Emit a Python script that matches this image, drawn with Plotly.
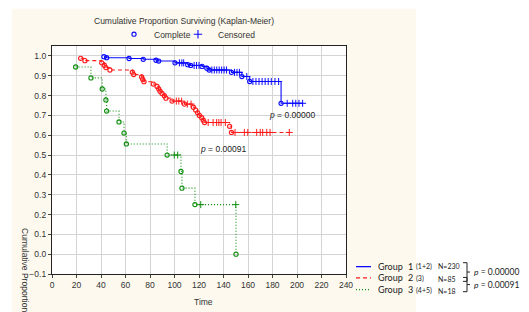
import plotly.graph_objects as go

# ---------------- data ----------------
g1_event_t = [42.4, 44.6, 62.9, 74.5, 84.9, 87.1, 100.4, 110.8, 113.2, 122.5, 126.4, 128.3, 146.5, 155.0, 161.4, 187.0]
g1_event_s = [0.996, 0.991, 0.987, 0.983, 0.978, 0.974, 0.965, 0.956, 0.952, 0.947, 0.938, 0.929, 0.917, 0.896, 0.871, 0.761]
g1_cens_t = [104.0, 106.0, 107.5, 116.0, 118.0, 120.0, 130.5, 132.5, 134.5, 136.5, 138.5, 140.5, 142.5,
             149.0, 151.0, 153.0, 159.0, 164.0, 166.5, 169.0, 171.5, 174.0, 176.5, 179.0, 182.0, 185.0,
             192.0, 196.5, 199.0, 201.6, 204.6]

g2_event_t = [23.4, 26.9, 40.6, 42.7, 44.0, 47.3, 65.6, 66.7, 73.2, 74.0, 75.1, 82.7, 85.8, 87.1, 88.2,
              89.8, 91.7, 93.0, 98.0, 108.2, 115.4, 117.3, 118.9, 120.3, 122.2, 123.5, 124.5, 145.0, 146.5]
g2_event_s = [0.988, 0.976, 0.965, 0.953, 0.941, 0.929, 0.918, 0.906, 0.894, 0.882, 0.870, 0.858, 0.846, 0.834, 0.822,
              0.811, 0.799, 0.787, 0.772, 0.757, 0.741, 0.727, 0.713, 0.700, 0.688, 0.676, 0.664, 0.645, 0.614]
g2_cens_t = [101.5, 103.5, 105.8, 110.5, 113.5, 127.5, 131.5, 134.4, 136.2, 138.0, 141.5,
             149.4, 157.0, 159.8, 167.1, 170.0, 172.0, 175.3, 178.0, 193.7]

g3_event_t = [19.3, 31.8, 41.0, 44.0, 44.6, 54.7, 58.8, 60.7, 94.0, 105.3, 106.1, 116.7, 150.2]
g3_event_s = [0.944, 0.889, 0.833, 0.778, 0.722, 0.667, 0.611, 0.556, 0.500, 0.417, 0.333, 0.250, 0.000]
g3_cens_t = [99.8, 102.6, 121.4, 150.0]

group_names = ["Group", "Group", "Group"]
group_nums = ["1", "2", "3"]
group_codes = ["(1+2)", "(3)", "(4+5)"]
group_ns = ["N=230", "N=85", "N=18"]
pair_pvalues = ["0.00000", "0.00091"]
x_ticks = list(range(0, 241, 20))
y_ticks = [round(-0.1 + 0.1 * i, 1) for i in range(12)]

colors = ["#0a0aff", "#ff1a1a", "#0f8f0f"]
dashes = ["solid", "4px,3px", "1px,2px"]

# ---------------- layout geometry (pixels, in reference-image coords) ----------------
OFF = 8                     # page body margin of the html page
W, H = 529 - OFF, 312 - OFF
L, R, T, B = 52, 346, 42, 274


def px(x):
    return (x - L) / (R - L)


def py(y):
    return (B - y) / (B - T)


def surv_at(t, ev_t, ev_s):
    s = 1.0
    for et, es in zip(ev_t, ev_s):
        if et <= t:
            s = es
    return s


fig = go.Figure()

groups = [(g1_event_t, g1_event_s, g1_cens_t),
          (g2_event_t, g2_event_s, g2_cens_t),
          (g3_event_t, g3_event_s, g3_cens_t)]

for i, (et, es, ct) in enumerate(groups):
    cs = [surv_at(t, et, es) for t in ct]
    pts = sorted(list(zip(et, es)) + list(zip(ct, cs)), key=lambda p: p[0])
    fig.add_trace(go.Scatter(
        x=[p[0] for p in pts], y=[p[1] for p in pts], mode="lines",
        line=dict(color=colors[i], width=1.1, dash=dashes[i], shape="hv"),
        showlegend=False, hoverinfo="skip"))
    fig.add_trace(go.Scatter(
        x=et, y=es, mode="markers",
        marker=dict(symbol="circle-open", size=4.2, color=colors[i], line=dict(width=1.1)),
        showlegend=False))
    fig.add_trace(go.Scatter(
        x=ct, y=cs, mode="markers",
        marker=dict(symbol="cross-thin-open", size=5, color=colors[i], line=dict(width=1, color=colors[i])),
        showlegend=False))

# legend-only traces for the top key (two separate legends for exact placement)
fig.add_trace(go.Scatter(x=[None], y=[None], mode="markers", name="Complete", legend="legend",
                         marker=dict(symbol="circle-open", size=4.2, color="#0a0aff", line=dict(width=1.1))))
fig.add_trace(go.Scatter(x=[None], y=[None], mode="markers", name="Censored", legend="legend2",
                         marker=dict(symbol="cross-thin-open", size=6, color="#0a0aff",
                                     line=dict(width=1.1, color="#0a0aff"))))

font_main = "Liberation Sans, Arial, sans-serif"
font_leg = "Lato, Liberation Sans, sans-serif"

shapes = [
    # cream background panel
    dict(type="rect", xref="paper", yref="paper", x0=px(12), x1=px(416), y0=py(320), y1=py(4),
         fillcolor="#fdf9ee", line=dict(width=0), layer="below"),
    # white plot area
    dict(type="rect", xref="paper", yref="paper", x0=0, x1=1, y0=0, y1=1,
         fillcolor="white", line=dict(width=0), layer="below"),
]


def ann(text, x, y, size=8.5, family=font_main, xanchor="center", yanchor="middle", color="#333", **kw):
    return dict(text=text, xref="paper", yref="paper", x=px(x), y=py(y), xanchor=xanchor,
                yanchor=yanchor, showarrow=False, font=dict(family=family, size=size, color=color), **kw)


annotations = [
    ann("Cumulative Proportion Surviving (Kaplan-Meier)", 184, 16.5),
    ann("Time", 203, 302),
    ann("Cumulative Proportion", 25, 270, textangle=90),
    dict(text="<i>p</i> = 0.00000", x=195.7, y=0.703, xanchor="center", yanchor="middle", showarrow=False,
         font=dict(family=font_main, size=8.5, color="#222")),
    dict(text="<i>p</i> = 0.00091", x=139.6, y=0.531, xanchor="center", yanchor="middle", showarrow=False,
         font=dict(family=font_main, size=8.5, color="#222")),
]

# bottom-right group key
row_y = [266.5, 278.0, 290.0]
small_dy = [0.5, 2.0, 2.0]
for i in range(3):
    shapes.append(dict(type="line", xref="paper", yref="paper", x0=px(356), x1=px(371),
                       y0=py(row_y[i]), y1=py(row_y[i]),
                       line=dict(color=colors[i], width=1.3, dash=dashes[i])))
    annotations.append(ann(group_names[i], 376, row_y[i], size=9, family=font_leg, xanchor="left", color="#222"))
    annotations.append(ann(group_nums[i], 406, row_y[i], size=9, family=font_leg, xanchor="left", color="#222"))
    annotations.append(ann(group_codes[i], 414, row_y[i] - 1 + small_dy[i], size=7, family=font_leg,
                           xanchor="left", color="#222"))
    annotations.append(ann(group_ns[i], 436, row_y[i] - 1 + small_dy[i], size=7, family=font_leg,
                           xanchor="left", color="#222"))

brackets = [(262.5, 281.5), (277.5, 292.0)]
for j, (y0, y1) in enumerate(brackets):
    xm = 467
    for seg in [((463, y0), (xm, y0)), ((xm, y0), (xm, y1)), ((463, y1), (xm, y1)),
                ((xm, (y0 + y1) / 2), (xm + 3, (y0 + y1) / 2))]:
        shapes.append(dict(type="line", xref="paper", yref="paper",
                           x0=px(seg[0][0]), y0=py(seg[0][1]), x1=px(seg[1][0]), y1=py(seg[1][1]),
                           line=dict(color="#222", width=1)))
    annotations.append(ann("<i>p</i> = " + pair_pvalues[j], 472, (y0 + y1) / 2, size=8.5, family=font_leg,
                           xanchor="left", color="#222"))

axis_common = dict(showgrid=True, gridcolor="#d4d4d4", gridwidth=1.3, zeroline=False,
                   showline=True, linecolor="#222", linewidth=1.3, mirror=True,
                   ticks="outside", ticklen=3, tickcolor="#444",
                   tickfont=dict(family=font_main, size=8.5, color="#333"))

leg_common = dict(orientation="h", xanchor="left", yanchor="middle", bgcolor="rgba(0,0,0,0)",
                  font=dict(family=font_main, size=8.5, color="#333"), itemwidth=30, tracegroupgap=0)

fig.update_layout(
    width=W, height=H,
    margin=dict(l=L - OFF, r=(529 - R), t=T - OFF, b=(312 - B), pad=0),
    paper_bgcolor="white", plot_bgcolor="white",
    xaxis=dict(range=[0, 240], tickvals=x_ticks, **axis_common),
    yaxis=dict(range=[-0.1, 1.05], tickvals=y_ticks, tickformat=".1f", **axis_common),
    shapes=shapes, annotations=annotations,
    showlegend=True,
    legend=dict(x=px(114), y=py(30), **leg_common),
    legend2=dict(x=px(178), y=py(30), **leg_common),
)

fig.write_html("out.html")
